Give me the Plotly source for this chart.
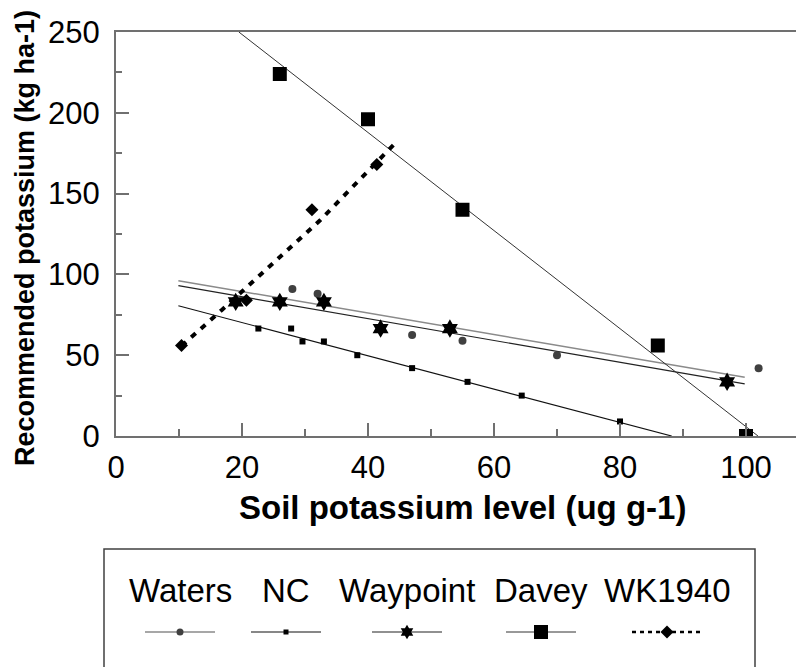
"""
Recommended potassium vs soil potassium level, five recommendation systems
"""

import plotly.graph_objects as go

# ---- data ----
waters_x = [28, 32, 47, 55, 70, 102]
waters_y = [91, 88, 62.5, 59, 50, 42]
waters_fit_x = [9.9, 99.8]
waters_fit_y = [96.1, 36.3]

nc_x = [22.6, 27.8, 29.6, 33, 38.3, 47, 55.8, 64.4, 80]
nc_y = [66.5, 66.5, 58.5, 58.5, 50, 42, 33.5, 25, 9]
nc_fit_x = [9.9, 88.2]
nc_fit_y = [80.6, 0]

waypoint_x = [19, 26, 33, 42, 53, 97]
waypoint_y = [83, 83, 83, 66.5, 66.5, 33.5]
waypoint_fit_x = [9.9, 99.8]
waypoint_fit_y = [93.0, 32.2]

davey_x = [26, 40, 55, 86, 100]
davey_y = [224, 196, 140, 56, 0]
davey_fit_x = [19.5, 101.9]
davey_fit_y = [250, 0]

wk_x = [10.4, 20.7, 31.1, 41.4]
wk_y = [56, 84, 140, 168]
wk_fit_x = [10.4, 16.8, 32.4, 44.4]
wk_fit_y = [55.7, 78, 133.5, 181.5]

x_ticks = [0, 20, 40, 60, 80, 100]
y_ticks = [0, 50, 100, 150, 200, 250]

legend_names = ['Waters', 'NC', 'Waypoint', 'Davey', 'WK1940']

# ---- layout constants ----
# the page body has an 8px margin, so the figure is drawn 8px in from the
# window corner; positions below are in window pixels and shifted by OFF
OFF = 8
WIN_W, WIN_H = 804, 667
W, H = WIN_W - OFF, WIN_H - OFF
PLOT_L, PLOT_T, PLOT_B = 116 - OFF, 32 - OFF, 436 - OFF
FONT = 'Liberation Sans, Arial, sans-serif'
AXIS_GRAY = '#707070'
WK_DASH = '6px,7px'
CLEAR = 'rgba(0,0,0,0)'

# series styles: (fit colour, fit width, fit dash, marker symbol, marker size, marker colour)
styles = {
    'Waters':   ('#8a8a8a', 1.5, 'solid', 'circle', 8, '#404040'),
    'NC':       ('#111111', 1.2, 'solid', 'square', 6, '#000000'),
    'Waypoint': ('#222222', 1.2, 'solid', 'hexagram', 14, '#000000'),
    'Davey':    ('#333333', 1.0, 'solid', 'square', 14, '#000000'),
    'WK1940':   ('#000000', 4.0, WK_DASH, 'diamond', 10, '#000000'),
}

series = {
    'Waters':   (waters_x, waters_y, waters_fit_x, waters_fit_y),
    'NC':       (nc_x, nc_y, nc_fit_x, nc_fit_y),
    'Waypoint': (waypoint_x, waypoint_y, waypoint_fit_x, waypoint_fit_y),
    'Davey':    (davey_x, davey_y, davey_fit_x, davey_fit_y),
    'WK1940':   (wk_x, wk_y, wk_fit_x, wk_fit_y),
}

fig = go.Figure()

# trend lines first, markers on top
for name in legend_names:
    xs, ys, fx, fy = series[name]
    lc, lw, dash, _, _, _ = styles[name]
    fig.add_trace(go.Scatter(x=fx, y=fy, mode='lines', showlegend=False,
                             line=dict(color=lc, width=lw, dash=dash)))

for name in legend_names:
    xs, ys, fx, fy = series[name]
    _, _, _, sym, size, mc = styles[name]
    fig.add_trace(go.Scatter(x=xs, y=ys, mode='markers', name=name, showlegend=False,
                             marker=dict(symbol=sym, size=size, color=mc,
                                         line=dict(width=0))))

# ---- hand-made legend: text above, sample below (window pixels) ----
legend_cx = [180, 286, 407, 541, 667]
legend_half = 35
legend_text_y = 590
legend_sample_y = 632
legend_marker_size = {'Waters': 7, 'NC': 5, 'Waypoint': 11, 'Davey': 14, 'WK1940': 10}

for name, cx in zip(legend_names, legend_cx):
    lc, lw, dash, sym, size, mc = styles[name]
    if name == 'WK1940':
        lw = 2.5
        dash = '4px,4px'
    fig.add_trace(go.Scatter(x=[cx - legend_half, cx + legend_half],
                             y=[legend_sample_y, legend_sample_y],
                             xaxis='x2', yaxis='y2', mode='lines', showlegend=False,
                             line=dict(color=lc, width=lw, dash=dash)))
    fig.add_trace(go.Scatter(x=[cx], y=[legend_sample_y], xaxis='x2', yaxis='y2',
                             mode='markers', showlegend=False,
                             marker=dict(symbol=sym, size=legend_marker_size[name],
                                         color=mc, line=dict(width=0))))
    fig.add_annotation(x=cx, y=legend_text_y, xref='x2', yref='y2', text=name,
                       showarrow=False, xanchor='center', yanchor='middle',
                       font=dict(family=FONT, size=33, color='#000000'))

# legend frame (bottom runs off the canvas)
fig.add_shape(type='rect', xref='x2', yref='y2', x0=104, x1=755, y0=549, y1=700,
              line=dict(color='#404040', width=1.5), fillcolor=CLEAR)

# axis titles
fig.add_annotation(x=(462 - OFF) / W, y=1 - (507 - OFF) / H, xref='paper', yref='paper',
                   text='<b>Soil potassium level (ug g-1)</b>', showarrow=False,
                   xanchor='center', yanchor='middle',
                   font=dict(family=FONT, size=33, color='#000000'))
fig.add_annotation(x=0, y=1 - (238 - OFF) / H, xref='paper', yref='paper',
                   text='<b>Recommended potassium (kg ha-1)</b>', showarrow=False,
                   textangle=-90, xanchor='left', yanchor='middle',
                   font=dict(family=FONT, size=27, color='#000000'))

x_max = (W - PLOT_L) / 6.3

fig.update_layout(
    width=W, height=H,
    margin=dict(l=0, r=0, t=0, b=0, pad=0),
    paper_bgcolor='white', plot_bgcolor=CLEAR,
    showlegend=False,
    font=dict(family=FONT, color='#000000'),
    xaxis=dict(domain=[PLOT_L / W, 1], range=[0, x_max], tickvals=x_ticks,
               showgrid=False, zeroline=False, showline=True, mirror=True,
               linecolor=AXIS_GRAY, linewidth=2, automargin=False,
               ticks='inside', ticklen=13, tickwidth=1.5, tickcolor=AXIS_GRAY,
               minor=dict(dtick=10, ticks='inside', ticklen=7, tickwidth=1.5,
                          tickcolor=AXIS_GRAY),
               tickfont=dict(family=FONT, size=31, color='#000000'),
               ticklabelstandoff=3),
    yaxis=dict(domain=[1 - PLOT_B / H, 1 - PLOT_T / H], range=[0, 250], tickvals=y_ticks,
               showgrid=False, zeroline=False, showline=True,
               linecolor=AXIS_GRAY, linewidth=2, automargin=False,
               ticks='inside', ticklen=13, tickwidth=1.5, tickcolor=AXIS_GRAY,
               minor=dict(dtick=25, ticks='inside', ticklen=6, tickwidth=1.5,
                          tickcolor=AXIS_GRAY),
               tickfont=dict(family=FONT, size=31, color='#000000'),
               ticklabelstandoff=8),
    # overlay axes in window pixels for the legend
    xaxis2=dict(domain=[0, 1], range=[OFF, W + OFF], visible=False, anchor='y2',
                fixedrange=True, automargin=False),
    yaxis2=dict(domain=[0, 1], range=[H + OFF, OFF], visible=False, anchor='x2',
                fixedrange=True, automargin=False),
)

fig.write_html("out.html")
